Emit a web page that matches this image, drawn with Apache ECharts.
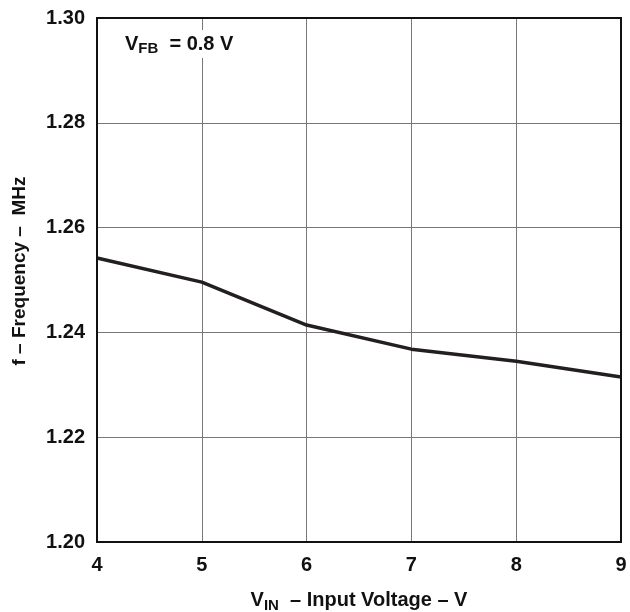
<!DOCTYPE html>
<html>
<head>
<meta charset="utf-8">
<script src="https://cdn.jsdelivr.net/npm/echarts@6/dist/echarts.min.js"></script>
<style>
  html, body { margin: 0; padding: 0; background: #fff; }
  #chart { width: 630px; height: 612px; }
</style>
</head>
<body>
<div id="chart"></div>
<script>
// input voltage (V)
const vin = [4, 5, 6, 7, 8, 9];
// switching frequency (MHz)
const freq = [1.2542, 1.2496, 1.2414, 1.2368, 1.2345, 1.2315];

const font = 'Liberation Sans, Arial, sans-serif';
const ink = '#111';

const chart = echarts.init(document.getElementById('chart'));
chart.setOption({
  animation: false,
  grid: { left: 97, right: 9, top: 18, bottom: 70, outerBoundsMode: 'none', containLabel: false },
  xAxis: {
    type: 'value',
    min: 4, max: 9, interval: 1,
    axisLine: { show: false },
    axisTick: { show: false },
    splitLine: { lineStyle: { color: '#777', width: 1 } },
    axisLabel: { color: ink, fontFamily: font, fontWeight: 'bold', fontSize: 20, margin: 13 },
    name: '{v|V}{s|IN}{t|  – Input Voltage – V}',
    nameLocation: 'middle',
    nameGap: 46,
    nameTextStyle: {
      rich: {
        v: { fontFamily: font, fontWeight: 'bold', fontSize: 20, color: ink },
        s: { fontFamily: font, fontWeight: 'bold', fontSize: 15, color: ink, padding: [10, 0, 0, 0] },
        t: { fontFamily: font, fontWeight: 'bold', fontSize: 20, color: ink }
      }
    }
  },
  yAxis: {
    type: 'value',
    min: 1.20, max: 1.30, interval: 0.02,
    axisLine: { show: false },
    axisTick: { show: false },
    splitLine: { lineStyle: { color: '#777', width: 1 } },
    axisLabel: {
      color: ink, fontFamily: font, fontWeight: 'bold', fontSize: 20, margin: 12,
      formatter: v => v.toFixed(2)
    },
    name: 'f – Frequency –  MHz',
    nameLocation: 'middle',
    nameGap: 68,
    nameTextStyle: { color: ink, fontFamily: font, fontWeight: 'bold', fontSize: 19, padding: [0, 0, 0, 18] }
  },
  graphic: [
    {
      type: 'rect',
      shape: { x: 97, y: 18, width: 524, height: 524 },
      style: { fill: 'none', stroke: ink, lineWidth: 2 },
      z: 10
    },
    {
      type: 'text',
      left: 121, top: 30,
      style: {
        text: '{v|V}{s|FB}{t|  = 0.8 V}',
        rich: {
          v: { fontFamily: font, fontWeight: 'bold', fontSize: 20, fill: ink },
          s: { fontFamily: font, fontWeight: 'bold', fontSize: 15, fill: ink, padding: [9, 0, 0, 0] },
          t: { fontFamily: font, fontWeight: 'bold', fontSize: 20, fill: ink }
        },
        backgroundColor: '#fff',
        padding: [2, 4]
      },
      z: 5
    }
  ],
  series: [{
    type: 'line',
    data: vin.map((x, i) => [x, freq[i]]),
    symbol: 'none',
    lineStyle: { color: '#231f20', width: 3.5 },
    z: 3
  }]
});
</script>
</body>
</html>
